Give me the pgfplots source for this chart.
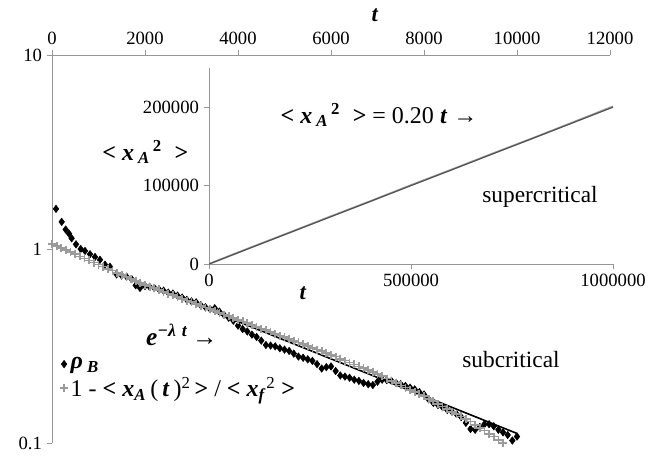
\documentclass[border=0pt]{standalone}
\usepackage{fontspec}
\setmainfont{Liberation Serif}
\usepackage{pgfplots}
\pgfplotsset{compat=1.18}
\definecolor{axgray}{RGB}{150,150,150}
\definecolor{ptgray}{RGB}{155,155,155}
\definecolor{fitgray}{RGB}{80,80,80}
\newcommand{\bi}[1]{\textbf{\textit{#1}}}

\begin{document}
\begin{tikzpicture}
\useasboundingbox (-39pt,-9pt) rectangle (462pt,332.25pt);
% main axis: decay on a log scale
\begin{axis}[
  scale only axis, width=418.5pt, height=291pt,
  xmin=0, xmax=12000, ymode=log, ymin=0.1, ymax=10,
  axis x line*=top, axis y line*=left,
  axis line style={axgray, line width=0.6pt},
  every tick/.style={axgray, line width=0.6pt},
  tick align=outside, major tick length=4pt,
  scaled ticks=false,
  xtick={0,2000,...,12000}, xticklabels={0,2000,4000,6000,8000,10000,12000},
  ytick={0.1,1,10}, yticklabels={0.1,1,10},
  yminorticks=false,
  tick label style={font=\fontsize{14}{16}\selectfont},
  legend style={at={(0.014,0.228)}, anchor=north west, draw=none, fill=none,
    font=\fontsize{18}{20}\selectfont, row sep=1pt, inner sep=0pt},
  legend cell align=left,
]
\addplot[only marks, mark=diamond*, mark size=2.8pt, black] coordinates {
(86,1.61) (208,1.38) (294,1.26) (366,1.20) (423,1.135) (516,1.057) (617,1.0)
(710,0.977) (817,0.94) (925,0.91) (1032,0.88) (1140,0.83) (1247,0.81)
(1390,0.74) (1498,0.73) (1605,0.72) (1713,0.70) (1800,0.65) (1892,0.63)
(2000,0.645) (2100,0.638) (2200,0.63) (2300,0.62) (2400,0.61) (2500,0.596)
(2600,0.589) (2700,0.575) (2800,0.562) (2900,0.547) (3000,0.537) (3100,0.531)
(3200,0.513) (3300,0.501) (3400,0.49) (3500,0.495) (3600,0.476) (3700,0.457)
(3800,0.442) (3900,0.427) (4000,0.403) (4100,0.387) (4200,0.376) (4300,0.362)
(4400,0.352) (4500,0.337) (4600,0.320) (4700,0.318) (4800,0.315) (4900,0.308)
(5000,0.303) (5100,0.298) (5200,0.289) (5300,0.279) (5400,0.275) (5500,0.270)
(5600,0.265) (5700,0.255) (5800,0.242) (5900,0.246) (6000,0.248) (6100,0.235)
(6200,0.223) (6300,0.220) (6400,0.217) (6500,0.212) (6600,0.209) (6700,0.204)
(6800,0.201) (6900,0.199) (7000,0.207) (7100,0.212) (7200,0.211) (7300,0.209)
(7400,0.204) (7500,0.201) (7600,0.197) (7700,0.193) (7800,0.189) (7900,0.183)
(8000,0.178) (8100,0.168) (8200,0.161) (8300,0.157) (8400,0.153) (8500,0.148)
(8600,0.145) (8700,0.141) (8800,0.136) (8900,0.127) (9000,0.118) (9100,0.117)
(9200,0.121) (9300,0.125) (9400,0.125) (9500,0.122) (9600,0.117) (9700,0.1135)
(9800,0.110) (9900,0.103) (10000,0.108)
};
\addlegendentry{\bi{ρ}\,\textsubscript{\bi{B}}}
\addplot[only marks, mark=+, mark size=3pt, ptgray, line width=1.3pt] coordinates {
(0,1.059) (100,1.034) (200,1.009) (300,0.985) (400,0.962) (500,0.939)
(600,0.916) (700,0.894) (800,0.873) (900,0.852) (1000,0.832) (1100,0.812)
(1200,0.792) (1300,0.774) (1400,0.755) (1500,0.737) (1600,0.719) (1700,0.702)
(1800,0.685) (1900,0.669) (2000,0.653) (2100,0.640) (2200,0.627) (2300,0.614)
(2400,0.601) (2500,0.589) (2600,0.577) (2700,0.565) (2800,0.553) (2900,0.542)
(3000,0.531) (3100,0.520) (3200,0.509) (3300,0.499) (3400,0.489) (3500,0.479)
(3600,0.469) (3700,0.459) (3800,0.450) (3900,0.441) (4000,0.432) (4100,0.423)
(4200,0.414) (4300,0.406) (4400,0.397) (4500,0.389) (4600,0.381) (4700,0.373)
(4800,0.366) (4900,0.358) (5000,0.351) (5100,0.344) (5200,0.337) (5300,0.330)
(5400,0.323) (5500,0.316) (5600,0.310) (5700,0.303) (5800,0.297) (5900,0.291)
(6000,0.285) (6100,0.279) (6200,0.272) (6300,0.266) (6400,0.260) (6500,0.254)
(6600,0.248) (6700,0.243) (6800,0.237) (6900,0.232) (7000,0.226) (7100,0.221)
(7200,0.215) (7300,0.209) (7400,0.204) (7500,0.198) (7600,0.193) (7700,0.188)
(7800,0.183) (7900,0.178) (8000,0.174) (8100,0.169) (8200,0.164) (8300,0.159)
(8400,0.154) (8500,0.150) (8600,0.145) (8700,0.141) (8800,0.137) (8900,0.133)
(9000,0.129) (9100,0.124) (9200,0.120) (9300,0.116) (9400,0.111) (9500,0.108)
(9600,0.104) (9700,0.100)
};
\addlegendentry{1 - \textbf{<} \bi{x}\textsubscript{\bi{A}}\,(\,\bi{t}\,)\textsuperscript{2}\,\textbf{>} / \textbf{<} \bi{x}\textsubscript{\bi{f}}\textsuperscript{2} \textbf{>}}
\addplot[black, line width=1.2pt, forget plot] coordinates {(1650,0.712) (10000,0.112)};
\end{axis}
% inset: mean square displacement
\begin{axis}[
  at={(117.75pt,134.25pt)}, anchor=south west,
  scale only axis, width=303pt, height=147pt,
  xmin=0, xmax=1000000, ymin=0, ymax=250000,
  axis x line*=bottom, axis y line*=left,
  axis line style={axgray, line width=0.6pt},
  every tick/.style={axgray, line width=0.6pt},
  tick align=outside, major tick length=4pt,
  scaled ticks=false,
  xtick={0,500000,1000000}, xticklabels={0,500000,1000000},
  ytick={0,100000,200000}, yticklabels={0,100000,200000},
  tick label style={font=\fontsize{14}{16}\selectfont},
]
\addplot[ptgray, line width=1.4pt] coordinates {
(0,0) (100000,20400) (200000,40300) (300000,60500) (400000,80200) (500000,100600)
(600000,120300) (700000,140500) (800000,160200) (900000,180500) (1000000,201000)
};
\addplot[fitgray, line width=0.8pt] coordinates {(0,0) (1000000,200000)};
\end{axis}
% annotations
\node[font=\fontsize{17}{20}\selectfont] at (242.25pt,321pt) {\bi{t}};
\node[font=\fontsize{19}{22}\selectfont, anchor=west] at (67pt,81pt)
  {\bi{e}\textsuperscript{\bi{−λ\,\,t}}\,→};
\node[font=\fontsize{17.5}{20}\selectfont] at (344.25pt,62.25pt) {subcritical};
\node[font=\fontsize{17.5}{20}\selectfont] at (366pt,184.5pt) {supercritical};
\node[font=\fontsize{18}{20}\selectfont, anchor=west] at (168pt,246pt)
  {\textbf{<} \bi{x}\,\textsubscript{\bi{A}}\textsuperscript{\,\textbf{2}}\; \textbf{>} = 0.20 \bi{t} →};
\node[font=\fontsize{18}{20}\selectfont] at (70pt,218.25pt)
  {\textbf{<} \bi{x}\,\textsubscript{\bi{A}}\textsuperscript{\,\textbf{2}}\; \textbf{>}};
\node[font=\fontsize{17}{20}\selectfont] at (188.25pt,112.5pt) {\bi{t}};
\end{tikzpicture}
\end{document}
